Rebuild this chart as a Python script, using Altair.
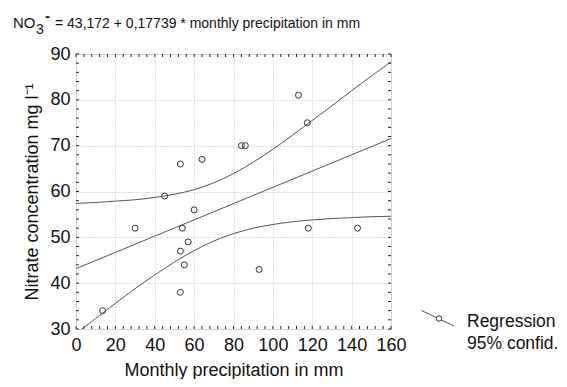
import altair as alt
import pandas as pd

precip = [13.5, 30, 45, 53, 64, 60, 54, 57, 53, 55, 53, 84, 86, 93, 113, 117.5, 118, 143]
nitrate = [34, 52, 59, 66, 67, 56, 52, 49, 47, 44, 38, 70, 70, 43, 81, 75, 52, 52]

# Regression line end points
reg_x = [0, 160]
reg_y = [43.17, 71.55]

# 95% confidence band
band_x = [0, 10, 20, 30, 40, 50, 60, 70, 80, 90, 100, 110, 120, 130, 140, 150, 160]
band_upper = [57.4, 57.6, 57.9, 58.2, 58.7, 59.4, 60.4, 61.9, 63.9, 66.4, 69.2, 72.3, 75.5, 78.7, 82.0, 85.2, 88.3]
band_lower = [29.0, 32.3, 35.6, 38.8, 41.8, 44.6, 47.1, 49.2, 50.8, 52.0, 52.8, 53.4, 53.8, 54.1, 54.3, 54.5, 54.6]

x_ticks = [0, 20, 40, 60, 80, 100, 120, 140, 160]
y_ticks = [30, 40, 50, 60, 70, 80, 90]
x_minor = list(range(0, 161, 4))
y_minor = list(range(30, 91, 2))

FONT = "Liberation Sans"
W, H = 315, 275

xs = alt.Scale(domain=[0, 160], nice=False, zero=False)
ys = alt.Scale(domain=[30, 90], nice=False, zero=False)

x_axis = alt.Axis(
    values=x_ticks, title="Monthly precipitation in mm", labelFontSize=18,
    titleFontSize=18, titleFontWeight="normal", labelPadding=7, ticks=False,
    titlePadding=7, domain=False, grid=True, gridColor="#bdbdbd",
    gridDash=[1, 2], labelColor="#111", titleColor="#111", labelFont=FONT,
    titleFont=FONT, labelOverlap=False, labelFlush=False, tickCount=9)
y_axis = alt.Axis(
    values=y_ticks, title="Nitrate concentration mg l\u207b\u00b9", labelFontSize=18,
    titleFontSize=18, titleFontWeight="normal", labelPadding=6, ticks=False,
    titlePadding=8, domain=False, grid=True, gridColor="#bdbdbd",
    gridDash=[1, 2], labelColor="#111", titleColor="#111", labelFont=FONT,
    titleFont=FONT, labelBaseline="middle", labelOverlap=False, labelFlush=False,
    tickCount=7)

X = lambda: alt.X("x:Q", scale=xs, axis=x_axis)
Y = lambda: alt.Y("y:Q", scale=ys, axis=y_axis)

pts_df = pd.DataFrame({"x": precip, "y": nitrate})
reg_df = pd.DataFrame({"x": reg_x, "y": reg_y})
band_df = pd.DataFrame({
    "x": band_x * 2,
    "y": band_upper + band_lower,
    "side": ["upper"] * len(band_x) + ["lower"] * len(band_x),
})

points = alt.Chart(pts_df).mark_point(
    shape="circle", filled=False, size=36, strokeWidth=1, color="#333333", opacity=1
).encode(x=X(), y=Y())

reg_line = alt.Chart(reg_df).mark_line(color="#555555", strokeWidth=1, clip=True).encode(
    x=X(), y=Y())

band_lines = alt.Chart(band_df).mark_line(
    color="#555555", strokeWidth=1, clip=True, interpolate="monotone"
).encode(x=X(), y=Y(), detail="side:N")

# inner ticks of the frame
xm_df = pd.DataFrame({"x": x_minor})
ym_df = pd.DataFrame({"y": y_minor})
tick_style = dict(color="#222", strokeWidth=1)
t_bottom = alt.Chart(xm_df).mark_rule(**tick_style).encode(
    x=X(), y=alt.value(H), y2=alt.value(H - 3))
t_top = alt.Chart(xm_df).mark_rule(**tick_style).encode(
    x=X(), y=alt.value(0), y2=alt.value(3))
t_left = alt.Chart(ym_df).mark_rule(**tick_style).encode(
    y=Y(), x=alt.value(0), x2=alt.value(3))
t_right = alt.Chart(ym_df).mark_rule(**tick_style).encode(
    y=Y(), x=alt.value(W), x2=alt.value(W - 3))


def txt(s, x, y, size, **kw):
    return alt.Chart(pd.DataFrame({"t": [s]})).mark_text(
        align="left", baseline="alphabetic", fontSize=size, font=FONT, color="#111", **kw
    ).encode(x=alt.value(x), y=alt.value(y), text="t:N")


title_parts = [
    txt("NO", -63, -26.5, 15),
    txt("3", -40, -20.5, 14),
    txt("-", -31, -33, 15, fontWeight="bold"),
    txt("= 43,172 + 0,17739 * monthly precipitation in mm", -21, -26.5, 14),
]

legend_line = alt.Chart(pd.DataFrame({"a": [0]})).mark_rule(color="#555", strokeWidth=1).encode(
    x=alt.value(345.5), y=alt.value(256.5), x2=alt.value(378), y2=alt.value(272))
legend_pt = alt.Chart(pd.DataFrame({"a": [0]})).mark_point(
    shape="circle", filled=True, fill="white", stroke="#333", size=30, strokeWidth=1, opacity=1
).encode(x=alt.value(363), y=alt.value(264.5))
legend_txt = [txt("Regression", 391, 273, 17.5), txt("95% confid.", 391, 295, 17.5)]

chart = alt.layer(
    points, band_lines, reg_line, t_bottom, t_top, t_left, t_right,
    legend_line, legend_pt, *legend_txt, *title_parts,
).properties(
    width=W, height=H,
    autosize=alt.AutoSizeParams(type="none"),
    padding={"left": 68, "top": 46, "right": 168, "bottom": 50},
).configure_view(stroke="#111", strokeWidth=1).configure(background="white")

chart.save("out.html", embed_options={"renderer": "svg", "actions": False})
